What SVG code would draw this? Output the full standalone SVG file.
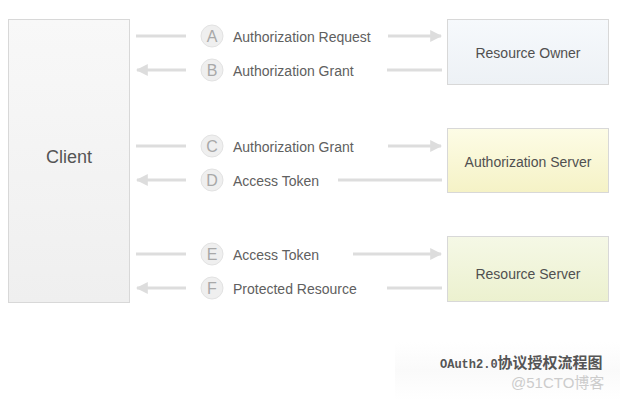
<svg xmlns="http://www.w3.org/2000/svg" width="620" height="400" viewBox="0 0 620 400">
<defs>
<linearGradient id="gClient" x1="0" y1="0" x2="0" y2="1"><stop offset="0" stop-color="#f8f8f8"/><stop offset="1" stop-color="#efefef"/></linearGradient>
<linearGradient id="gRO" x1="0" y1="0" x2="0" y2="1"><stop offset="0" stop-color="#f6f9fc"/><stop offset="1" stop-color="#edf1f5"/></linearGradient>
<linearGradient id="gAS" x1="0" y1="0" x2="0" y2="1"><stop offset="0" stop-color="#fdfce6"/><stop offset="1" stop-color="#f5f2c6"/></linearGradient>
<linearGradient id="gRS" x1="0" y1="0" x2="0" y2="1"><stop offset="0" stop-color="#f5f8e6"/><stop offset="1" stop-color="#ecf1cf"/></linearGradient>
<linearGradient id="gWm" x1="0" y1="0" x2="0" y2="1"><stop offset="0" stop-color="#ffffff"/><stop offset="0.5" stop-color="#fafafa"/><stop offset="1" stop-color="#ffffff"/></linearGradient>
<marker id="ah" viewBox="0 0 10 10" refX="9" refY="5" markerWidth="4" markerHeight="4" orient="auto-start-reverse" markerUnits="strokeWidth">
<path d="M0,0 L10,5 L0,10 Z" fill="#dddddd"/>
</marker>
</defs>
<style>
.box{stroke:#d8d8d8;stroke-width:1}
.lbl{font-family:"Liberation Sans",Arial,sans-serif;font-size:14px;fill:#606060}
.nlbl{font-family:"Liberation Sans",Arial,sans-serif;font-size:14px;fill:#505050;text-anchor:middle}
.circ{fill:#efefef;stroke:#e2e2e2;stroke-width:1}
.ltr{font-family:"Liberation Sans",Arial,sans-serif;font-size:16px;fill:#a8a8a8;text-anchor:middle}
.ln{stroke:#dddddd;stroke-width:3;fill:none}
</style>
<rect width="620" height="400" fill="#ffffff"/>
<g id="client">
<rect x="8.5" y="19.5" width="121" height="283" class="box" fill="url(#gClient)"/>
<text x="69" y="163" font-family="Liberation Sans,Arial,sans-serif" font-size="18" fill="#555" text-anchor="middle">Client</text>
</g>
<g id="resource-owner">
<rect x="447.5" y="19.5" width="161" height="65" class="box" fill="url(#gRO)"/>
<text x="528" y="58" class="nlbl">Resource Owner</text>
</g>
<g id="authorization-server">
<rect x="447.5" y="128.5" width="161" height="64" class="box" fill="url(#gAS)"/>
<text x="528" y="167" class="nlbl">Authorization Server</text>
</g>
<g id="resource-server">
<rect x="447.5" y="236.5" width="161" height="65" class="box" fill="url(#gRS)"/>
<text x="528" y="279" class="nlbl">Resource Server</text>
</g>
<g id="connectors">
<line x1="136" y1="36" x2="186" y2="36" class="ln"/>
<line x1="388" y1="36" x2="441" y2="36" class="ln" marker-end="url(#ah)"/>
<line x1="186" y1="70" x2="137" y2="70" class="ln" marker-end="url(#ah)"/>
<line x1="387" y1="70" x2="442" y2="70" class="ln"/>
<line x1="136" y1="146" x2="186" y2="146" class="ln"/>
<line x1="388" y1="146" x2="441" y2="146" class="ln" marker-end="url(#ah)"/>
<line x1="186" y1="180" x2="137" y2="180" class="ln" marker-end="url(#ah)"/>
<line x1="338" y1="180" x2="442" y2="180" class="ln"/>
<line x1="136" y1="254" x2="186" y2="254" class="ln"/>
<line x1="353" y1="254" x2="441" y2="254" class="ln" marker-end="url(#ah)"/>
<line x1="186" y1="288" x2="137" y2="288" class="ln" marker-end="url(#ah)"/>
<line x1="387" y1="288" x2="442" y2="288" class="ln"/>
</g>
<g id="step-a"><circle cx="212" cy="36" r="11" class="circ"/><text x="212" y="42" class="ltr">A</text><text x="233" y="42" class="lbl">Authorization Request</text></g>
<g id="step-b"><circle cx="212" cy="70" r="11" class="circ"/><text x="212" y="76" class="ltr">B</text><text x="233" y="76" class="lbl">Authorization Grant</text></g>
<g id="step-c"><circle cx="212" cy="146" r="11" class="circ"/><text x="212" y="152" class="ltr">C</text><text x="233" y="152" class="lbl">Authorization Grant</text></g>
<g id="step-d"><circle cx="212" cy="180" r="11" class="circ"/><text x="212" y="186" class="ltr">D</text><text x="233" y="186" class="lbl">Access Token</text></g>
<g id="step-e"><circle cx="212" cy="254" r="11" class="circ"/><text x="212" y="260" class="ltr">E</text><text x="233" y="260" class="lbl">Access Token</text></g>
<g id="step-f"><circle cx="212" cy="288" r="11" class="circ"/><text x="212" y="294" class="ltr">F</text><text x="233" y="294" class="lbl">Protected Resource</text></g>
<g id="watermark">
<rect x="395" y="342" width="225" height="58" fill="url(#gWm)"/>
<text x="440" y="368" font-weight="bold" fill="#555"><tspan font-family="Liberation Mono,monospace" font-size="12">OAuth2.0</tspan><tspan font-family="'Noto Sans CJK SC',sans-serif" font-size="15">协议授权流程图</tspan></text>
<text x="511" y="388" font-family="Liberation Sans,'Noto Sans CJK SC',sans-serif" font-size="15" fill="#cccccc">@51CTO博客</text>
</g>
</svg>
